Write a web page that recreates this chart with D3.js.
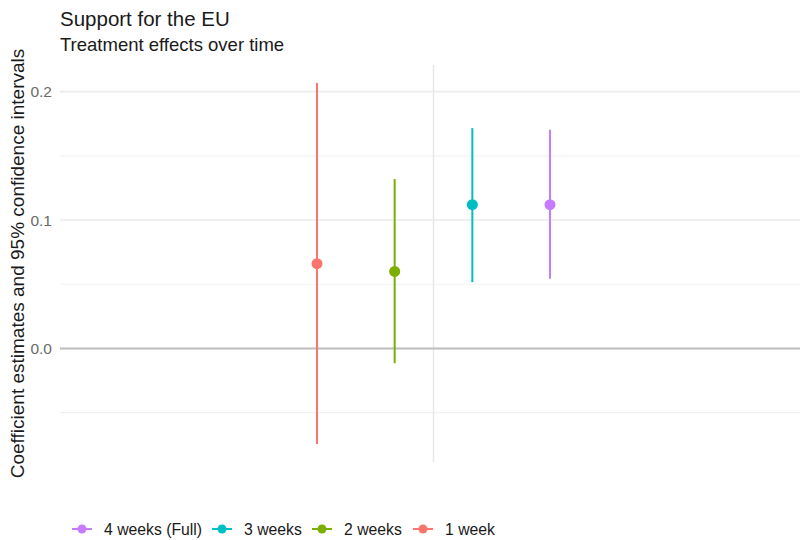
<!DOCTYPE html>
<html>
<head>
<meta charset="utf-8">
<script src="https://cdn.jsdelivr.net/npm/d3@7"></script>
<style>
  html, body { margin: 0; padding: 0; background: #fff; }
  svg { display: block; font-family: "Liberation Sans", Arial, sans-serif; }
</style>
</head>
<body>
<svg id="chart" width="800" height="540"></svg>
<script>
// Treatment-effect estimates for each follow-up window
const groups = ["1 week", "2 weeks", "3 weeks", "4 weeks (Full)"];
const estimates = [0.066, 0.060, 0.112, 0.112];
const ciLower = [-0.0744, -0.0115, 0.0516, 0.0542];
const ciUpper = [0.2067, 0.1319, 0.1716, 0.1703];
const colors = ["#F8766D", "#7CAE00", "#00BFC4", "#C77CFF"];
const legendOrder = ["4 weeks (Full)", "3 weeks", "2 weeks", "1 week"];
const yTicks = [0.0, 0.1, 0.2];
const yMinorTicks = [-0.05, 0.05, 0.15];

const rows = groups.map((g, i) => ({ group: g, est: estimates[i], lo: ciLower[i], hi: ciUpper[i] }));

const svg = d3.select("#chart");
const panel = { left: 60, right: 800, top: 65, bottom: 462 };

// y domain: data range expanded by 5% on each side
const lo = d3.min(ciLower), hi = d3.max(ciUpper);
const pad = (hi - lo) * 0.05;
const y = d3.scaleLinear().domain([lo - pad, hi + pad]).range([panel.bottom, panel.top]);

// dodged positions around a single category centre
const x = d3.scalePoint().domain(groups).range([317, 550]);
const color = d3.scaleOrdinal().domain(groups).range(colors);
const xCentre = (x.range()[0] + x.range()[1]) / 2;

const g = svg.append("g");

// minor gridlines
g.selectAll("line.minor").data(yMinorTicks).join("line")
  .attr("x1", panel.left).attr("x2", panel.right)
  .attr("y1", d => y(d)).attr("y2", d => y(d))
  .attr("stroke", "#f2f2f2").attr("stroke-width", 1.2);

// major gridlines
g.selectAll("line.major").data(yTicks).join("line")
  .attr("x1", panel.left).attr("x2", panel.right)
  .attr("y1", d => y(d)).attr("y2", d => y(d))
  .attr("stroke", "#ebebeb").attr("stroke-width", 1.6);

// vertical gridline for the category
g.append("line")
  .attr("x1", xCentre).attr("x2", xCentre)
  .attr("y1", panel.top).attr("y2", panel.bottom)
  .attr("stroke", "#e6e6e6").attr("stroke-width", 1.4);

// zero reference line
g.append("line")
  .attr("x1", panel.left).attr("x2", panel.right)
  .attr("y1", y(0)).attr("y2", y(0))
  .attr("stroke", "#bdbdbd").attr("stroke-width", 2);

// y axis tick labels
const yAxis = d3.axisLeft(y).tickValues(yTicks).tickFormat(d3.format(".1f")).tickSize(0).tickPadding(8);
const ax = svg.append("g").attr("transform", `translate(${panel.left},0)`).call(yAxis);
ax.select(".domain").remove();
ax.selectAll("text").attr("font-size", 15.5).attr("fill", "#6b6b6b")
  .attr("font-family", "Liberation Sans, Arial, sans-serif");

// confidence intervals
g.selectAll("line.ci").data(rows).join("line")
  .attr("x1", d => x(d.group)).attr("x2", d => x(d.group))
  .attr("y1", d => y(d.lo)).attr("y2", d => y(d.hi))
  .attr("stroke", d => color(d.group)).attr("stroke-width", 2);

// point estimates
g.selectAll("circle.est").data(rows).join("circle")
  .attr("cx", d => x(d.group)).attr("cy", d => y(d.est))
  .attr("r", 5.5).attr("fill", d => color(d.group));

// titles
svg.append("text").attr("x", 60).attr("y", 26).attr("font-size", 20.5).attr("fill", "#1a1a1a")
  .text("Support for the EU");
svg.append("text").attr("x", 60).attr("y", 51).attr("font-size", 18.5).attr("fill", "#1a1a1a")
  .text("Treatment effects over time");

// y axis title
svg.append("text")
  .attr("transform", `translate(23.5,${(panel.top + panel.bottom) / 2}) rotate(-90)`)
  .attr("text-anchor", "middle").attr("font-size", 19).attr("fill", "#1a1a1a")
  .text("Coefficient estimates and 95% confidence intervals");

// legend
const legendX = [82, 222, 322, 423];
const legendY = 529;
const lg = svg.append("g");
legendOrder.forEach((name, i) => {
  const cx = legendX[i];
  lg.append("line").attr("x1", cx - 10).attr("x2", cx + 10)
    .attr("y1", legendY).attr("y2", legendY)
    .attr("stroke", color(name)).attr("stroke-width", 2);
  lg.append("circle").attr("cx", cx).attr("cy", legendY).attr("r", 4.5).attr("fill", color(name));
  lg.append("text").attr("x", cx + 22).attr("y", legendY + 5.5)
    .attr("font-size", 15.75).attr("fill", "#1a1a1a").text(name);
});
</script>
</body>
</html>
